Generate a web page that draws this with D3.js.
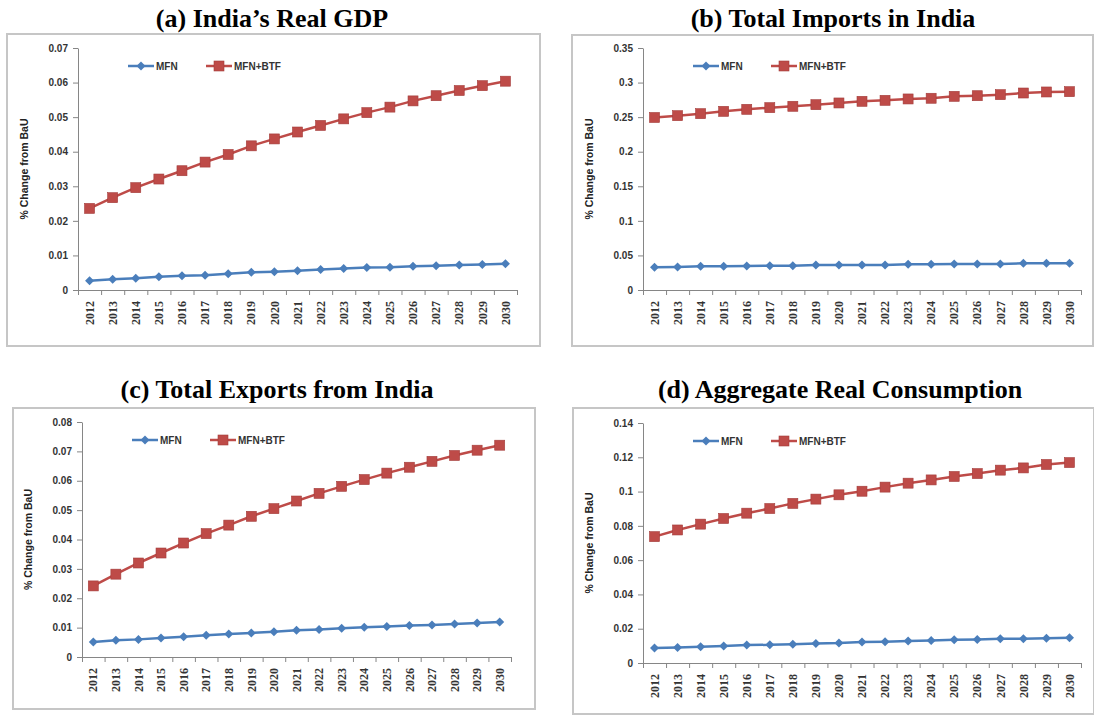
<!DOCTYPE html>
<html><head><meta charset="utf-8">
<script src="https://cdn.jsdelivr.net/npm/d3@7"></script>
<style>
body{margin:0;background:#fff;}
svg{display:block;}
</style></head>
<body>
<svg id="c" width="1094" height="715"></svg>
<script>
const years = ["2012","2013","2014","2015","2016","2017","2018","2019","2020","2021","2022","2023","2024","2025","2026","2027","2028","2029","2030"];
const seriesNames = ["MFN","MFN+BTF"];
const titles = ["(a) India\u2019s Real GDP","(b) Total Imports in India","(c) Total Exports from India","(d) Aggregate Real Consumption"];
const yLabel = "% Change from BaU";

const gdpMFN = [0.0027,0.0031,0.0034,0.0038,0.0041,0.0043,0.0047,0.0051,0.0053,0.0056,0.0059,0.0062,0.0065,0.0066,0.0069,0.0070,0.0072,0.0074,0.0076];
const gdpBTF = [0.0236,0.0267,0.0296,0.0321,0.0345,0.0370,0.0392,0.0417,0.0437,0.0457,0.0476,0.0495,0.0513,0.0529,0.0547,0.0562,0.0577,0.0591,0.0604];
const impMFN = [0.0330,0.0333,0.0342,0.0342,0.0347,0.0352,0.0352,0.0362,0.0362,0.0362,0.0362,0.0371,0.0371,0.0376,0.0376,0.0376,0.0386,0.0386,0.0388];
const impBTF = [0.2495,0.2521,0.2550,0.2584,0.2613,0.2637,0.2657,0.2680,0.2705,0.2729,0.2743,0.2763,0.2773,0.2801,0.2810,0.2825,0.2849,0.2864,0.2868];
const expMFN = [0.0051,0.0057,0.0060,0.0065,0.0069,0.0074,0.0078,0.0082,0.0086,0.0091,0.0094,0.0098,0.0101,0.0104,0.0107,0.0109,0.0112,0.0116,0.0119];
const expBTF = [0.0242,0.0282,0.0320,0.0354,0.0388,0.0420,0.0449,0.0479,0.0505,0.0531,0.0557,0.0581,0.0604,0.0626,0.0646,0.0666,0.0686,0.0704,0.0721];
const conMFN = [0.0087,0.0091,0.0095,0.0099,0.0105,0.0106,0.0110,0.0114,0.0116,0.0122,0.0124,0.0128,0.0131,0.0135,0.0137,0.0141,0.0141,0.0145,0.0147];
const conBTF = [0.0737,0.0776,0.0810,0.0843,0.0874,0.0901,0.0931,0.0956,0.0981,0.1002,0.1026,0.1049,0.1068,0.1088,0.1105,0.1125,0.1138,0.1158,0.1169];

const ticksA = ["0","0.01","0.02","0.03","0.04","0.05","0.06","0.07"];
const ticksB = ["0","0.05","0.1","0.15","0.2","0.25","0.3","0.35"];
const ticksC = ["0","0.01","0.02","0.03","0.04","0.05","0.06","0.07","0.08"];
const ticksD = ["0","0.02","0.04","0.06","0.08","0.1","0.12","0.14"];

const panels = [
  {title:titles[0], mfn:gdpMFN, btf:gdpBTF, ticks:ticksA, frame:[7,34,540,346], titleX:272, titleY:27, x0:78, x1:517, yb:290, yt:48},
  {title:titles[1], mfn:impMFN, btf:impBTF, ticks:ticksB, frame:[572,35,1093,346], titleX:833, titleY:27, x0:643, x1:1081, yb:290, yt:48},
  {title:titles[2], mfn:expMFN, btf:expBTF, ticks:ticksC, frame:[13,408,535,709], titleX:277, titleY:398, x0:82, x1:511, yb:657, yt:422},
  {title:titles[3], mfn:conMFN, btf:conBTF, ticks:ticksD, frame:[573,408,1094,714], titleX:840, titleY:398, x0:643, x1:1081, yb:663, yt:423}
];

const blue = "#4a7ebb", red = "#be4b48";
const svg = d3.select("#c");

function diamond(g, x, y, col){
  g.append("path").attr("d", `M${x},${y-4.5}L${x+4.5},${y}L${x},${y+4.5}L${x-4.5},${y}Z`).attr("fill", col);
}
function square(g, x, y, col){
  g.append("rect").attr("x", x-5).attr("y", y-5).attr("width", 10).attr("height", 10).attr("fill", col).attr("stroke","#a33c3a").attr("stroke-width",0.6);
}

panels.forEach(p => {
  const g = svg.append("g");
  const [fx0, fy0, fx1, fy1] = p.frame;
  g.append("rect").attr("x", fx0).attr("y", fy0).attr("width", fx1-fx0).attr("height", fy1-fy0)
    .attr("fill","#fff").attr("stroke","#c6c6c6").attr("stroke-width",2);
  g.append("text").attr("x", p.titleX).attr("y", p.titleY).attr("text-anchor","middle")
    .attr("font-family","Liberation Serif, Times New Roman, serif").attr("font-weight","bold").attr("font-size",26)
    .attr("fill","#000").text(p.title);

  const tickVals = p.ticks.map(Number);
  const yMax = tickVals[tickVals.length-1];
  const y = d3.scaleLinear().domain([0, yMax]).range([p.yb, p.yt]);
  const xb = d3.scaleBand().domain(years).range([p.x0, p.x1]);
  const xc = d => xb(d) + xb.bandwidth()/2;

  // y axis
  const ya = g.append("g").attr("transform", `translate(${p.x0},0)`)
    .call(d3.axisLeft(y).tickValues(tickVals).tickSize(5).tickSizeOuter(0).tickPadding(5).tickFormat((d,i) => p.ticks[i]));
  ya.selectAll("path,line").attr("stroke","#868686");
  ya.selectAll("text").attr("font-family","Liberation Sans, Arial, sans-serif").attr("font-weight","bold").attr("font-size",10).attr("fill","#333");

  // x axis boundary ticks
  const xi = d3.scaleLinear().domain([0, years.length]).range([p.x0, p.x1]);
  const xa = g.append("g").attr("transform", `translate(0,${p.yb})`)
    .call(d3.axisBottom(xi).tickValues(d3.range(years.length+1)).tickSize(5).tickSizeOuter(0).tickFormat(""));
  xa.selectAll("path,line").attr("stroke","#868686");
  // x labels
  const xl = g.append("g").attr("transform", `translate(0,${p.yb})`)
    .call(d3.axisBottom(xb).tickSize(0).tickPadding(0));
  xl.select(".domain").remove();
  xl.selectAll("text").attr("font-family","Liberation Serif, Times New Roman, serif").attr("font-weight","bold").attr("font-size",12).attr("fill","#333")
    .attr("text-anchor","end").attr("transform","rotate(-90)").attr("x",-11).attr("y",0).attr("dy","0.35em");

  // y label
  g.append("text").attr("transform", `translate(${p.x0-50},${(p.yb+p.yt)/2}) rotate(-90)`).attr("text-anchor","middle")
    .attr("font-family","Liberation Sans, Arial, sans-serif").attr("font-weight","bold").attr("font-size",10.5).attr("fill","#222").text(yLabel);

  // lines
  const line = d3.line().x((d,i) => xc(years[i])).y(d => y(d));
  g.append("path").datum(p.mfn).attr("d", line).attr("fill","none").attr("stroke", blue).attr("stroke-width",2.5);
  g.append("path").datum(p.btf).attr("d", line).attr("fill","none").attr("stroke", red).attr("stroke-width",2.5);
  p.mfn.forEach((v,i) => diamond(g, xc(years[i]), y(v), blue));
  p.btf.forEach((v,i) => square(g, xc(years[i]), y(v), red));

  // legend
  const ly = p.yt + 18;
  const l1 = p.x0 + 50, l2 = p.x0 + 128;
  g.append("line").attr("x1", l1).attr("x2", l1+26).attr("y1", ly).attr("y2", ly).attr("stroke", blue).attr("stroke-width",2.5);
  diamond(g, l1+13, ly, blue);
  g.append("text").attr("x", l1+28).attr("y", ly).attr("dy","0.35em").attr("font-family","Liberation Sans, Arial, sans-serif").attr("font-weight","bold").attr("font-size",10).attr("fill","#333").text(seriesNames[0]);
  g.append("line").attr("x1", l2).attr("x2", l2+26).attr("y1", ly).attr("y2", ly).attr("stroke", red).attr("stroke-width",2.5);
  square(g, l2+13, ly, red);
  g.append("text").attr("x", l2+28).attr("y", ly).attr("dy","0.35em").attr("font-family","Liberation Sans, Arial, sans-serif").attr("font-weight","bold").attr("font-size",10).attr("fill","#333").text(seriesNames[1]);
});
</script>
</body></html>
